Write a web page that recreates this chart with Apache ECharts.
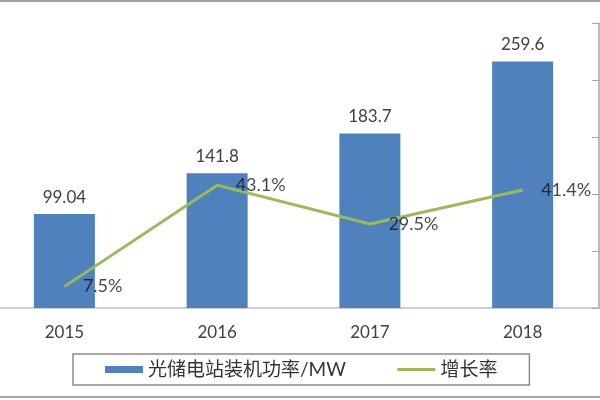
<!DOCTYPE html>
<html>
<head>
<meta charset="utf-8">
<script src="https://cdn.jsdelivr.net/npm/echarts@6/dist/echarts.min.js"></script>
<style>
  html, body { margin: 0; padding: 0; background: #fff; overflow: hidden; }
  /* 原图左侧被裁掉一截，画布向左多出 12px */
  #chart { width: 612px; height: 400px; margin-left: -12px; }
</style>
</head>
<body>
<div id="chart"></div>
<script>
// 数据
const years = ['2015', '2016', '2017', '2018'];
const capacity = [99.04, 141.8, 183.7, 259.6];
const growth = [7.5, 43.1, 29.5, 41.4];

const fontFamily = 'Lato, "Noto Sans CJK SC", sans-serif';
const chart = echarts.init(document.getElementById('chart'));

const option = {
  animation: false,
  textStyle: { fontFamily: fontFamily },
  grid: { left: 0, right: 1, top: 23, bottom: 92 },
  legend: {
    left: 85,
    top: 354,
    padding: [6, 32, 6, 32],
    borderColor: '#8C8C8C',
    borderWidth: 1.5,
    itemGap: 50,
    itemWidth: 38,
    itemHeight: 7,
    textStyle: { fontSize: 19, color: '#333', fontFamily: fontFamily },
    data: [
      { name: '光储电站装机功率/MW', icon: 'rect' },
      { name: '增长率', itemStyle: { opacity: 0 }, lineStyle: { width: 3 } }
    ]
  },
  xAxis: {
    type: 'category',
    data: years,
    axisLine: { lineStyle: { color: '#BFBFBF', width: 1.5 } },
    axisTick: { show: false },
    axisLabel: { color: '#404040', fontSize: 17, margin: 16 }
  },
  yAxis: [
    {
      type: 'value',
      min: 0,
      max: 300,
      interval: 50,
      show: false,
      splitLine: { show: false }
    },
    {
      type: 'value',
      position: 'right',
      min: 0,
      max: 100,
      interval: 20,
      axisLine: { show: true, lineStyle: { color: '#A6A6A6', width: 1.5 } },
      axisTick: { show: true, inside: true, length: 7, lineStyle: { color: '#A6A6A6' } },
      axisLabel: { show: false },
      splitLine: { show: false }
    }
  ],
  series: [
    {
      name: '光储电站装机功率/MW',
      type: 'bar',
      data: capacity,
      barWidth: 61,
      itemStyle: { color: '#4F81BD' },
      label: {
        show: true,
        position: 'top',
        distance: 8,
        color: '#404040',
        fontSize: 17
      }
    },
    {
      name: '增长率',
      type: 'line',
      yAxisIndex: 1,
      data: growth,
      symbol: 'none',
      z: 3,
      lineStyle: { color: '#9BBB59', width: 3 },
      itemStyle: { color: '#9BBB59' }
    },
    {
      // 增长率的数据标签
      name: 'growthLabel',
      type: 'scatter',
      yAxisIndex: 1,
      data: growth,
      symbolSize: 1,
      z: 4,
      itemStyle: { color: 'rgba(0,0,0,0)' },
      label: {
        show: true,
        position: 'right',
        distance: 18,
        color: '#141428',
        fontSize: 18,
        formatter: '{c}%'
      }
    }
  ],
  graphic: [
    {
      type: 'line',
      shape: { x1: 0, y1: 1, x2: 612, y2: 1 },
      style: { stroke: '#A0A0A0', lineWidth: 2 }
    },
    {
      type: 'line',
      shape: { x1: 0, y1: 397, x2: 612, y2: 397 },
      style: { stroke: '#A6A6A6', lineWidth: 2 }
    }
  ]
};

chart.setOption(option);
</script>
</body>
</html>
